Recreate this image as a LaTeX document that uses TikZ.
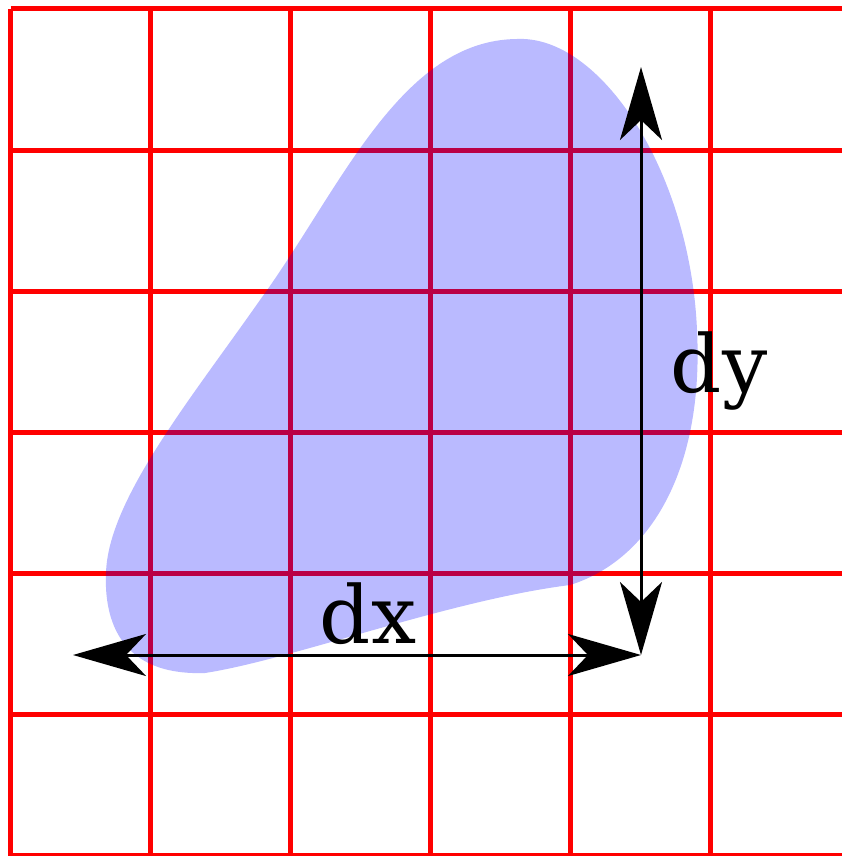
\documentclass[tikz,border=0pt]{standalone}
\usepackage{fontspec}
\setmainfont{DejaVu Serif}
\usetikzlibrary{arrows.meta}
\begin{document}
\begin{tikzpicture}[x=1pt,y=-1pt,
  gridline/.style={red,line width=5pt},
  blob/.style={fill=blue,fill opacity=0.27,draw=none},
  dimarrow/.style={black,line width=3pt,{Stealth[length=73pt,width=42pt,inset=20pt]}-{Stealth[length=73pt,width=42pt,inset=20pt]}},
  lbl/.style={font=\fontsize{80}{92}\selectfont,inner sep=0pt,anchor=base}]
\useasboundingbox (0,0) rectangle (842,856);
% grid
\foreach \gx in {10.5,150.5,290.5,430.5,570.5,710.5}
  \draw[gridline] (\gx,9) -- (\gx,860);
\foreach \gy in {9,150,291,432,573,714,855}
  \draw[gridline] (10.5,\gy) -- (846,\gy);
% blob
\fill[blob] (517,39) .. controls (600,35) and (690,170) .. (697,330)
  .. controls (704,470) and (650,560) .. (570,585)
  .. controls (450,600) and (290,660) .. (205,673)
  .. controls (120,676) and (104,620) .. (106,573)
  .. controls (108,500) and (190,400) .. (260,300)
  .. controls (340,190) and (400,40) .. (517,39) -- cycle;
% arrows
\coordinate (corner) at (641,655);
\coordinate (leftend) at (73,655);
\coordinate (topend) at (641,67);
\draw[dimarrow] (leftend) -- (corner);
\draw[dimarrow] (corner) -- (topend);
% labels
\node[lbl] (dx) at (368,643) {dx};
\node[lbl] (dy) at (719,392) {dy};
\end{tikzpicture}
\end{document}
